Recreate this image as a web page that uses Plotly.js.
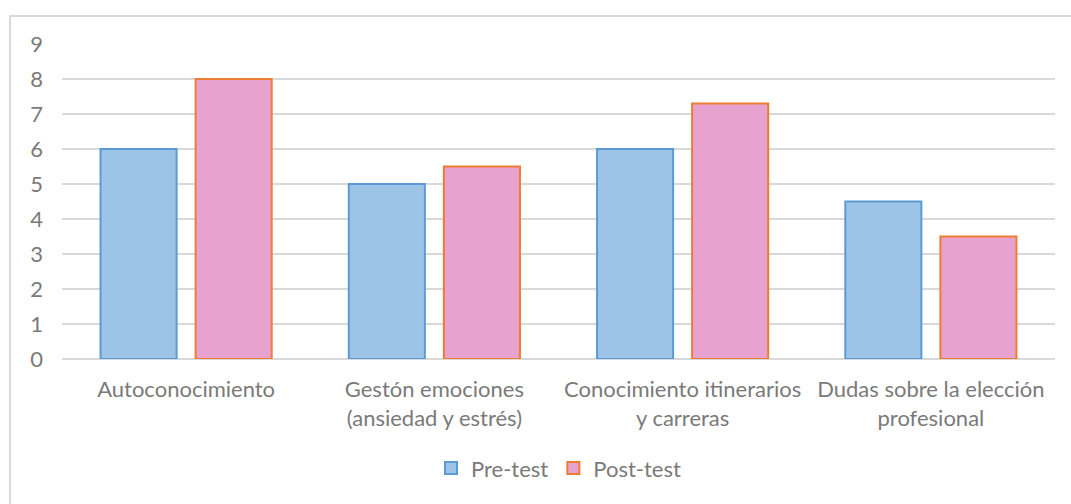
<!DOCTYPE html>
<html>
<head>
<meta charset="utf-8">
<script src="https://cdn.plot.ly/plotly-3.0.1.min.js"></script>
<style>
  html, body { margin: 0; padding: 0; background: #fff; overflow: hidden; }
  #wrap { position: relative; width: 1071px; height: 504px; }
  #frame { position: absolute; left: 9px; top: 15px; width: 1100px; height: 600px;
           border-left: 2px solid #D9D9D9; border-top: 2px solid #D9D9D9; pointer-events: none; }
  #chart { position: absolute; left: 0; top: 0; width: 1071px; height: 504px; }
</style>
</head>
<body>
<div id="wrap">
  <div id="chart"></div>
  <div id="frame"></div>
</div>
<script>
const categories = [
  "Autoconocimiento",
  "Gestón emociones<br>(ansiedad y estrés)",
  "Conocimiento itinerarios<br>y carreras",
  "Dudas sobre la elección<br>profesional"
];
const preTest = [6, 5, 6, 4.5];
const postTest = [8, 5.5, 7.3, 3.5];
const yTicks = [0, 1, 2, 3, 4, 5, 6, 7, 8, 9];

const font = { family: "Lato, 'Open Sans', sans-serif", size: 22, color: "#7A7A7A" };

const data = [
  { type: "bar", name: "Pre-test", x: categories, y: preTest,
    marker: { color: "#9DC3E6", line: { color: "#5B9BD5", width: 2 } }, hoverinfo: "none" },
  { type: "bar", name: "Post-test", x: categories, y: postTest,
    marker: { color: "#E8A2D0", line: { color: "#ED7D31", width: 2 } }, hoverinfo: "none" }
];

const layout = {
  width: 1071, height: 504,
  margin: { l: 62, r: 16, t: 44, b: 145 },
  paper_bgcolor: "rgba(0,0,0,0)", plot_bgcolor: "rgba(0,0,0,0)",
  font: font,
  barmode: "group", bargap: 0.234, bargroupgap: 0.2,
  showlegend: true,
  legend: { orientation: "h", x: 0.5, xanchor: "center", y: -0.28, yanchor: "top",
            font: font, itemwidth: 30, tracegroupgap: 0 },
  xaxis: { type: "category", showgrid: false, showline: false, zeroline: false,
           ticks: "", tickfont: font, ticklabelstandoff: 15 },
  yaxis: { range: [0, 9], tickvals: yTicks, ticktext: yTicks.map(String),
           showgrid: true, gridcolor: "#D9D9D9", gridwidth: 2,
           zeroline: true, zerolinecolor: "#D9D9D9", zerolinewidth: 2,
           showline: false, ticks: "", tickfont: font, ticklabelstandoff: 18 }
};

Plotly.newPlot("chart", data, layout, { staticPlot: true, displayModeBar: false });
</script>
</body>
</html>
